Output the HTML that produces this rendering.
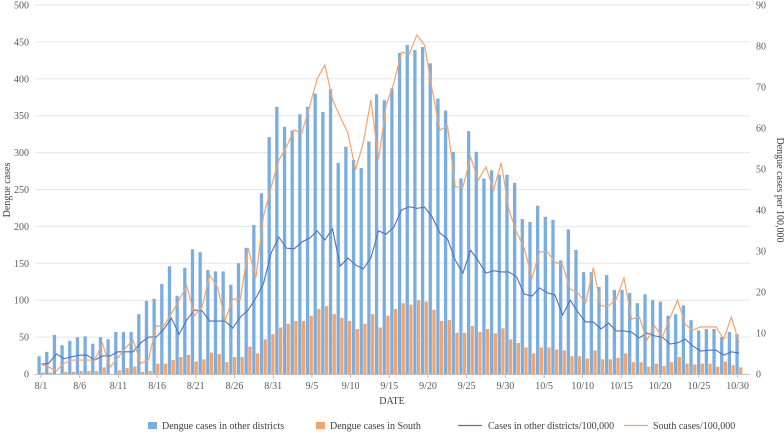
<!DOCTYPE html>
<html><head><meta charset="utf-8"><style>
html,body{margin:0;padding:0;background:#fff}
svg{display:block;font-family:"Liberation Serif",serif}
</style></head><body>
<svg id="chart" width="784" height="434" viewBox="0 0 784 434" xmlns="http://www.w3.org/2000/svg">
<g id="grid"></g>
<g id="bars"></g>
<g id="lines"></g>
<g id="axes"></g>
<text x="10" y="190" transform="rotate(-90 10 190)" text-anchor="middle" font-size="10" fill="#404040">Dengue cases</text>
<text x="777" y="190" transform="rotate(90 777 190)" text-anchor="middle" font-size="10" fill="#404040">Dengue cases per 100,000</text>
<text x="392" y="404" text-anchor="middle" font-size="10" fill="#404040">DATE</text>
<g font-size="10" fill="#404040">
<g><rect x="148" y="422" width="9" height="7" fill="#7aaee0"/><text x="162" y="429">Dengue cases in other districts</text></g>
<g><rect x="316" y="422" width="9" height="7" fill="#f2a46c"/><text x="330" y="429">Dengue cases in South</text></g>
<g><line x1="458" y1="425.5" x2="482" y2="425.5" stroke="#4a72c8" stroke-width="1.2"/><text x="488" y="429">Cases in other districts/100,000</text></g>
<g><line x1="624" y1="425.5" x2="648" y2="425.5" stroke="#f2a46c" stroke-width="1.2"/><text x="653" y="429">South cases/100,000</text></g>
</g>
</svg>
<script>
const otherCases=[24,30,53,39,45,50,51,41,50,47,57,57,57,81,99,102,122,146,106,144,169,165,141,139,139,121,150,171,202,245,321,362,335,330,352,362,380,355,386,286,308,290,279,315,379,371,387,435,446,439,443,421,373,357,301,265,329,301,265,276,270,270,259,210,206,228,213,209,154,196,168,138,138,118,134,114,114,110,96,108,100,98,79,81,93,73,59,61,61,50,57,54];
const southCases=[2,2,0,3,3,4,4,4,9,0,5,8,10,3,4,14,14,19,23,26,17,20,29,27,16,23,23,37,28,47,54,63,68,72,72,79,88,92,81,76,72,61,68,81,63,79,88,96,94,100,98,87,72,73,56,56,65,57,61,55,62,47,42,36,28,36,36,33,32,24,24,21,32,20,20,22,28,16,16,10,14,11,16,23,14,13,14,14,10,17,12,9];
const otherRate=[2.4,2.6,4.9,3.7,4.2,4.6,4.6,3.4,4.4,4.4,5.4,5.4,5.4,7.6,9.0,9.0,10.9,13.6,9.7,13.2,15.6,15.4,12.9,12.9,12.9,11.2,13.9,15.6,18.5,22,29.5,33.4,30.7,30.5,32.2,33.1,34.9,32.7,35.4,26.3,28.3,26.6,25.6,28.3,34.9,34.1,35.8,40,40.8,40.4,40.7,38.3,34.4,32.9,27.8,24.6,30.2,27.6,24.6,25.2,24.9,24.9,23.7,19.5,19.0,21,19.8,19.3,14.4,18.0,15.1,12.7,12.7,11,12.4,10.5,10.5,10.2,8.8,10,9.3,9,7.3,7.6,8.5,6.8,5.6,5.8,5.8,4.6,5.4,5.1];
const southRate=[2.4,1.7,0.8,2.6,3.4,3.4,3.4,3.4,7.5,1.7,3.9,6.3,8.3,2.6,3.4,11.7,11.7,14.8,18,21.5,14.2,16.4,24.1,21.3,13.2,18.3,18.3,30.7,23.4,38.5,45.6,52.2,55.4,59.5,58.8,65.1,72,75.4,67,62.7,58.8,49.8,56.3,66.8,52.4,65.6,71,78.5,78,82.7,80.2,69.3,59.5,60.5,45.6,45.6,52.9,47.3,50.5,44.9,51.5,40,34.6,30.7,23.4,29.8,29.8,27.3,26.6,20.7,19.8,17.3,25.9,16.6,16.6,18.3,23.4,13.4,13.9,8.3,11.7,9,13.7,18,12,10.7,11.5,11.5,11.5,8.5,13.9,7.6];
const leftTicks=[0,50,100,150,200,250,300,350,400,450,500];
const rightTicks=[0,10,20,30,40,50,60,70,80,90];
const xTickLabels=["8/1","8/6","8/11","8/16","8/21","8/26","8/31","9/5","9/10","9/15","9/20","9/25","9/30","10/5","10/10","10/15","10/20","10/25","10/30"];
const xTickIdx=[0,5,10,15,20,25,30,35,40,45,50,55,60,65,70,75,80,85,90];

const NS="http://www.w3.org/2000/svg";
const X0=37.2,BAND=7.67,Y0=374,YTOP=5,TICKBAND=7.74;
const xC=i=>X0+BAND*(i+0.5);
const xT=i=>41+TICKBAND*i;
const yL=v=>Y0-(Y0-YTOP)*v/500;
const yR=v=>Y0-(Y0-YTOP)*v/90;
function mk(tag,attrs,parent){const e=document.createElementNS(NS,tag);for(const k in attrs)e.setAttribute(k,attrs[k]);parent.appendChild(e);return e;}
const grid=document.getElementById('grid'),bars=document.getElementById('bars'),lines=document.getElementById('lines'),axes=document.getElementById('axes');
leftTicks.forEach(t=>{
  if(t>0){const g=mk('line',{x1:35,x2:750,y1:yL(t),y2:yL(t),stroke:'#e6e6e6','stroke-width':1},grid);
  
  }
  const tx=mk('text',{x:29,y:yL(t)+3.5,'text-anchor':'end','font-size':10,fill:'#595959'},axes);tx.textContent=t;
  
  
});
rightTicks.forEach(t=>{
  const tx=mk('text',{x:756,y:yR(t)+3.5,'font-size':10,fill:'#595959'},axes);tx.textContent=t;
  
  
});
const ax=mk('line',{x1:35,x2:750,y1:Y0+0.5,y2:Y0+0.5,stroke:'#bfbfbf','stroke-width':1},axes);


xTickIdx.forEach((idx,k)=>{
  const tk=mk('line',{x1:xT(idx),x2:xT(idx),y1:Y0,y2:Y0+4,stroke:'#bfbfbf'},axes);
  
  
  const tx=mk('text',{x:xT(idx),y:389,'text-anchor':'middle','font-size':10,fill:'#595959'},axes);tx.textContent=xTickLabels[k];
  
  
});
otherCases.forEach((v,i)=>{
  const r=mk('rect',{x:xC(i)-3.6,y:yL(v),width:3.3,height:Y0-yL(v),fill:'#7aaee0'},bars);
  
  
});
southCases.forEach((v,i)=>{
  const r=mk('rect',{x:xC(i)+0.1,y:yL(v),width:3.3,height:Y0-yL(v),fill:'#f2a46c'},bars);
  
  
});
const p1=mk('polyline',{points:otherRate.map((v,i)=>xC(i)+','+yR(v)).join(' '),fill:'none',stroke:'#4a72c8','stroke-width':1.1},lines);


const p2=mk('polyline',{points:southRate.map((v,i)=>xC(i)+','+yR(v)).join(' '),fill:'none',stroke:'#f2a46c','stroke-width':1.2},lines);


</script>
</body></html>
